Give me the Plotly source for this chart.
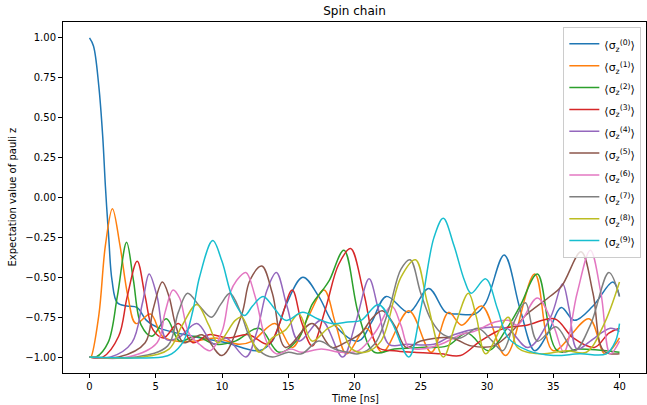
import plotly.graph_objects as go

# Key points (time in ns, <sigma_z> value)
t_s0 = [0, 0.3, 0.7, 1.0, 1.2, 1.45, 1.7, 2.1, 2.8, 3.6, 4.3, 5.3, 7.8, 10.3, 12.8, 13.8, 14.8, 16.1, 17.3, 18.5, 20.3, 21.3, 22.4, 24.1, 25.6, 26.9, 27.8, 29.1, 29.9, 31.3, 32.5, 33.6, 34.6, 35.6, 36.6, 38.0, 39.5, 40.0]
v_s0 = [1.0, 0.95, 0.7, 0.38, 0.07, -0.25, -0.52, -0.66, -0.68, -0.69, -0.77, -0.82, -0.87, -0.91, -0.96, -0.9, -0.68, -0.5, -0.62, -0.8, -0.9, -0.78, -0.62, -0.72, -0.57, -0.72, -0.73, -0.73, -0.66, -0.36, -0.7, -0.96, -0.85, -0.69, -0.77, -0.68, -0.53, -0.62]

t_s1 = [0, 0.1, 0.7, 1.2, 1.73, 2.3, 2.9, 3.5, 4.6, 5.5, 6.5, 8.0, 9.5, 11.3, 12.3, 14.0, 15.3, 16.5, 17.7, 18.6, 19.4, 20.9, 22.1, 24.1, 25.8, 27.1, 28.1, 29.6, 31.4, 33.6, 35.0, 37.7, 38.9, 40.0]
v_s1 = [-1.0, -1.0, -0.74, -0.3, -0.07, -0.3, -0.62, -0.79, -0.73, -0.87, -0.9, -0.9, -0.88, -0.92, -0.9, -0.79, -0.94, -0.75, -0.58, -0.8, -0.98, -0.82, -0.97, -0.71, -0.97, -0.72, -0.8, -0.68, -0.99, -0.48, -0.96, -0.76, -0.98, -0.88]

t_s2 = [0, 0.5, 1.4, 2.1, 2.8, 3.3, 3.9, 4.7, 5.8, 6.8, 8.0, 9.5, 11.0, 12.8, 14.3, 15.8, 16.8, 17.6, 18.1, 19.2, 20.3, 21.5, 23.0, 25.0, 27.0, 28.5, 30.1, 31.5, 32.5, 33.8, 35.3, 37.0, 40.0]
v_s2 = [-1.0, -1.0, -0.91, -0.62, -0.28, -0.51, -0.8, -0.87, -0.76, -0.9, -0.87, -0.92, -0.9, -0.82, -0.97, -0.88, -0.67, -0.58, -0.52, -0.33, -0.73, -0.97, -0.95, -0.94, -0.93, -0.85, -0.96, -0.82, -0.68, -0.48, -0.96, -0.95, -0.97]

t_s3 = [0, 1.0, 2.2, 2.85, 3.6, 4.2, 4.8, 5.6, 6.7, 7.8, 9.0, 10.5, 12.0, 13.5, 14.3, 15.3, 16.0, 16.8, 17.8, 18.8, 19.7, 20.7, 21.8, 23.0, 24.5, 26.5, 28.0, 29.5, 31.3, 33.0, 35.1, 36.5, 38.1, 39.2, 40.0]
v_s3 = [-1.0, -1.0, -0.87, -0.62, -0.4, -0.62, -0.83, -0.88, -0.79, -0.91, -0.86, -0.88, -0.86, -0.92, -0.8, -0.58, -0.78, -0.93, -0.7, -0.42, -0.32, -0.6, -0.94, -0.96, -0.97, -0.98, -0.99, -0.9, -0.82, -0.8, -0.76, -0.88, -0.94, -0.85, -0.82]

t_s4 = [0, 1.6, 3.2, 4.0, 4.5, 5.1, 5.8, 6.7, 8.1, 9.4, 10.3, 11.8, 12.6, 13.4, 14.1, 14.9, 15.8, 17.5, 19.1, 20.1, 21.1, 21.8, 22.6, 24.0, 26.0, 27.5, 29.5, 31.5, 33.1, 34.8, 35.7, 36.2, 36.8, 37.8, 39.3, 40.0]
v_s4 = [-1.0, -1.0, -0.91, -0.66, -0.48, -0.62, -0.89, -0.88, -0.79, -0.92, -0.88, -1.0, -0.85, -0.58, -0.47, -0.68, -0.9, -0.77, -1.0, -0.78, -0.51, -0.7, -0.92, -0.92, -0.92, -0.86, -0.82, -0.82, -0.94, -0.75, -0.54, -0.7, -0.95, -0.9, -0.82, -0.84]

t_s5 = [0, 2.2, 4.2, 4.8, 5.5, 6.0, 6.5, 7.1, 8.5, 10.0, 11.5, 12.1, 13.0, 13.8, 14.8, 16.8, 18.3, 19.5, 20.5, 21.3, 22.1, 23.0, 23.9, 25.0, 27.3, 28.8, 30.5, 32.1, 32.9, 34.6, 35.6, 37.1, 38.0, 38.8, 40.0]
v_s5 = [-1.0, -1.0, -0.91, -0.7, -0.53, -0.62, -0.8, -0.91, -0.86, -0.99, -0.73, -0.52, -0.43, -0.6, -0.94, -0.79, -0.94, -0.9, -0.85, -0.76, -0.71, -0.8, -0.94, -0.9, -0.88, -0.93, -0.93, -0.82, -0.74, -0.63, -0.56, -0.34, -0.6, -0.96, -0.98]

t_s6 = [0, 2.9, 5.1, 5.7, 6.3, 6.8, 7.5, 8.3, 9.1, 10.0, 10.6, 11.1, 11.8, 12.5, 13.4, 14.1, 15.2, 16.0, 17.5, 19.0, 20.3, 21.6, 22.8, 23.5, 24.1, 25.0, 26.5, 28.0, 29.0, 30.6, 31.6, 32.3, 33.8, 35.0, 35.8, 36.8, 37.8, 38.6, 39.3, 40.0]
v_s6 = [-1.0, -1.0, -0.91, -0.72, -0.58, -0.63, -0.85, -0.92, -0.96, -0.84, -0.6, -0.52, -0.47, -0.62, -0.91, -0.98, -0.95, -0.97, -0.95, -0.97, -0.96, -0.84, -0.68, -0.8, -0.94, -0.95, -0.92, -0.86, -0.84, -0.78, -0.77, -0.8, -0.63, -0.8, -0.97, -0.6, -0.33, -0.6, -0.98, -0.9]

t_s7 = [0, 3.5, 5.9, 6.7, 7.4, 8.3, 9.2, 9.9, 10.6, 11.4, 12.1, 12.8, 13.8, 15.0, 16.0, 17.3, 18.5, 19.5, 20.3, 21.5, 22.6, 23.5, 24.2, 25.0, 25.8, 26.7, 28.0, 29.3, 30.4, 31.2, 32.1, 32.9, 33.8, 35.2, 36.6, 37.8, 39.2, 40.0]
v_s7 = [-1.0, -1.0, -0.93, -0.72, -0.6, -0.68, -0.75, -0.67, -0.6, -0.72, -0.88, -0.96, -1.0, -0.97, -0.98, -0.9, -0.95, -0.97, -0.98, -0.92, -0.7, -0.45, -0.39, -0.6, -0.77, -0.86, -0.88, -0.82, -0.9, -0.96, -0.77, -0.66, -0.9, -0.81, -0.96, -0.8, -0.47, -0.62]

t_s8 = [0, 4.0, 6.0, 7.0, 8.1, 9.0, 9.7, 11.0, 11.5, 12.8, 13.8, 14.8, 15.8, 16.8, 18.0, 18.8, 19.8, 20.8, 22.0, 23.5, 24.6, 25.5, 26.7, 27.6, 28.6, 29.2, 29.9, 31.6, 32.3, 34.0, 36.0, 37.5, 38.8, 40.0]
v_s8 = [-1.0, -1.0, -0.95, -0.8, -0.67, -0.8, -0.91, -0.77, -0.75, -0.97, -0.88, -0.83, -0.73, -0.9, -0.82, -0.8, -0.95, -0.97, -0.9, -0.5, -0.39, -0.66, -1.0, -0.8, -0.6, -0.75, -0.98, -0.75, -0.94, -0.98, -0.96, -0.97, -0.8, -0.53]

t_s9 = [0, 5.5, 6.2, 7.1, 7.8, 8.3, 9.3, 10.0, 10.8, 11.7, 12.3, 13.1, 14.0, 14.8, 16.1, 17.2, 18.3, 19.5, 20.5, 21.8, 22.8, 24.1, 25.0, 26.0, 26.7, 27.5, 28.3, 28.8, 29.9, 30.8, 31.6, 33.1, 35.0, 37.0, 39.0, 39.7, 40.0]
v_s9 = [-1.0, -1.0, -0.98, -0.9, -0.71, -0.5, -0.27, -0.4, -0.63, -0.74, -0.68, -0.62, -0.7, -0.77, -0.72, -0.76, -0.79, -0.78, -0.77, -0.67, -0.78, -1.0, -0.7, -0.25, -0.13, -0.3, -0.52, -0.6, -0.51, -0.7, -0.88, -0.96, -0.99, -0.98, -0.98, -0.9, -0.79]

series_t = [t_s0, t_s1, t_s2, t_s3, t_s4, t_s5, t_s6, t_s7, t_s8, t_s9]
series_v = [v_s0, v_s1, v_s2, v_s3, v_s4, v_s5, v_s6, v_s7, v_s8, v_s9]
names = [f"<span style='font-size:11px'>⟨σ<sub>z</sub><sup>({i})</sup>⟩</span>" for i in range(10)]
colors = ["#1f77b4", "#ff7f0e", "#2ca02c", "#d62728", "#9467bd",
          "#8c564b", "#e377c2", "#7f7f7f", "#bcbd22", "#17becf"]

x_ticks = [0, 5, 10, 15, 20, 25, 30, 35, 40]
y_ticks = [1.0, 0.75, 0.5, 0.25, 0.0, -0.25, -0.5, -0.75, -1.0]

fig = go.Figure()
for t, v, n, c in zip(series_t, series_v, names, colors):
    fig.add_trace(go.Scatter(x=t, y=v, mode="lines", name=n,
                             line=dict(color=c, width=1.5, shape="spline", smoothing=1.0)))

axis_common = dict(showline=True, mirror=True, linecolor="black", linewidth=1,
                   ticks="outside", ticklen=4, tickcolor="black", tickwidth=1,
                   showgrid=False, zeroline=False, automargin=False,
                   tickfont=dict(family="DejaVu Sans", size=10, color="black"))

fig.update_layout(
    width=647, height=405,
    margin=dict(l=63, r=1, t=22, b=32, autoexpand=False),
    paper_bgcolor="white", plot_bgcolor="white",
    font=dict(family="DejaVu Sans", size=10, color="black"),
    title=dict(text="Spin chain", x=0.5, xref="paper", xanchor="center",
               y=1 - 11 / 405, yref="container", yanchor="middle",
               font=dict(family="DejaVu Sans", size=12, color="black")),
    xaxis=dict(range=[-2, 42], tickvals=x_ticks, ticktext=[str(v) for v in x_ticks],
               **axis_common),
    yaxis=dict(range=[-1.1, 1.1], tickvals=y_ticks, tickformat=".2f",
               **axis_common),
    legend=dict(x=0.992, y=0.986, xanchor="right", yanchor="top",
                bgcolor="rgba(255,255,255,0.8)", bordercolor="#cccccc", borderwidth=1,
                font=dict(family="DejaVu Sans", size=14.5, color="black"),
                itemwidth=30, tracegroupgap=0),
    showlegend=True,
    annotations=[
        dict(text="Time [ns]", xref="paper", yref="paper", x=0.5, y=0,
             yshift=-25, xanchor="center", yanchor="middle", showarrow=False,
             font=dict(family="DejaVu Sans", size=10, color="black")),
        dict(text="Expectation value of pauli z", xref="paper", yref="paper",
             x=0, y=0.5, xshift=-51, textangle=-90, xanchor="center",
             yanchor="middle", showarrow=False,
             font=dict(family="DejaVu Sans", size=10, color="black")),
    ],
)

fig.write_html("out.html", config={"displayModeBar": False},
               post_script="document.body.style.margin='0';")
